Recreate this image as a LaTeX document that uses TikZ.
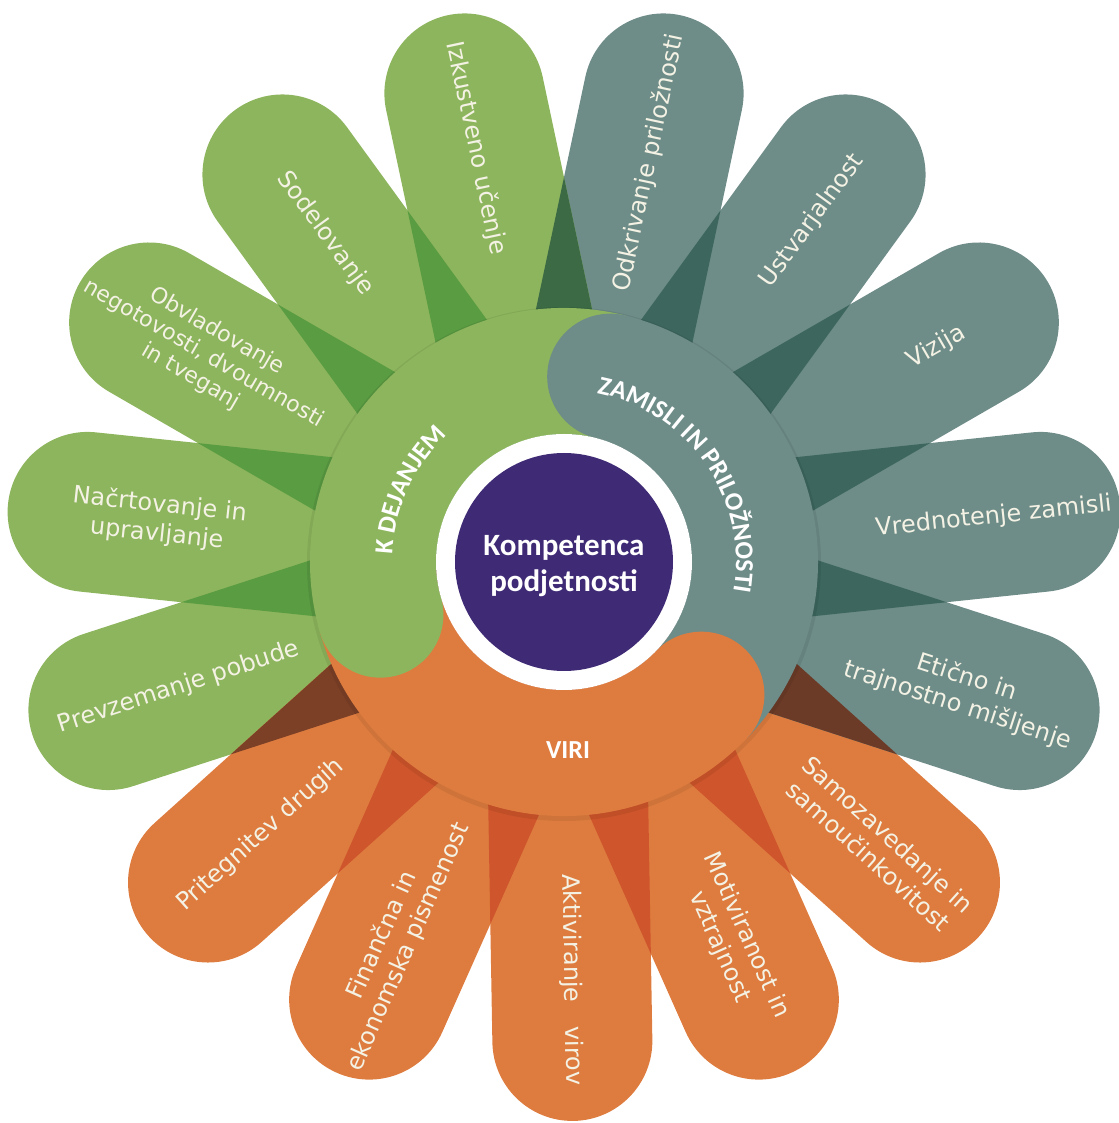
\documentclass[tikz,border=0pt]{standalone}
\usepackage{fontspec}
\setmainfont{DejaVu Sans}
\newfontfamily\carl{Carlito}
\usetikzlibrary{decorations.text}

\definecolor{gP}{HTML}{8DB55D}
\definecolor{gD}{HTML}{5A9C42}
\definecolor{tP}{HTML}{6E8C88}
\definecolor{tD}{HTML}{3D675E}
\definecolor{oP}{HTML}{DE7C3F}
\definecolor{oD}{HTML}{CF552C}
\definecolor{goD}{HTML}{7C4026}
\definecolor{toD}{HTML}{6C3B27}
\definecolor{gtD}{HTML}{3B6A45}
\definecolor{purp}{HTML}{3F2A75}
\definecolor{ptext}{HTML}{F4F2E4}

\newcommand\petalshape{(0pt,-80pt) -- (479pt,-80pt) arc[start angle=-90,end angle=90,radius=80pt] -- (0pt,80pt) -- cycle}

\tikzset{
  ptxt/.style={align=center, font=\fontsize{24}{29}\selectfont, text=ptext, inner sep=0pt},
  ptxts/.style={align=center, font=\fontsize{22}{26}\selectfont, text=ptext, inner sep=0pt},
  ringtxt/.style={font=\carl\bfseries\fontsize{26}{26}\selectfont, text=white, inner sep=0pt},
}

\begin{document}
\begin{tikzpicture}[x=1pt,y=1pt]
\useasboundingbox (-564pt,-561pt) rectangle (554pt,562pt);

% petals
\foreach \a/\c in {-89/oP,-66/oP,-42/oP,-18/tP,6/tP,30/tP,54/tP,78/tP,102/gP,126/gP,150/gP,174/gP,198/gP,222/oP,246/oP}
  \fill[\c, rotate=\a] \petalshape;

% overlaps of neighbouring petals
\foreach \a/\b/\c in {-89/-66/oD,-66/-42/oD,-42/-18/toD,-18/6/tD,6/30/tD,30/54/tD,54/78/tD,78/102/gtD,102/126/gD,126/150/gD,150/174/gD,174/198/gD,198/222/goD,222/246/oD,246/271/oD}{
  \begin{scope}
    \clip[rotate=\a] \petalshape;
    \fill[\c, rotate=\b] \petalshape;
  \end{scope}
}

% ring shadow
\fill[black, opacity=0.07] (0pt,-2pt) circle[radius=257pt];

% ring sectors
\fill[tP] (-44:254pt) arc[start angle=-44,end angle=76,radius=254pt] -- (76:128pt) arc[start angle=76,end angle=-44,radius=128pt] -- cycle;
\fill[gP] (76:254pt) arc[start angle=76,end angle=196,radius=254pt] -- (196:128pt) arc[start angle=196,end angle=76,radius=128pt] -- cycle;
\fill[oP] (196:254pt) arc[start angle=196,end angle=316,radius=254pt] -- (316:128pt) arc[start angle=316,end angle=196,radius=128pt] -- cycle;
% round caps
\fill[tP] (76:191pt) circle[radius=63pt];
\fill[gP] (196:191pt) circle[radius=63pt];
\fill[oP] (316:191pt) circle[radius=63pt];

% centre
\fill[white] (0pt,0pt) circle[radius=128pt];
\fill[purp] (0pt,0pt) circle[radius=109pt];
\node[align=center, font=\carl\bfseries\fontsize{31}{36}\selectfont, text=white, inner sep=0pt] (core) at (0pt,-4pt) {Kompetenca\\podjetnosti};

% ring labels
\path[decorate, decoration={text along path, text={|\carl\bfseries\fontsize{26}{26}\selectfont|K DEJANJEM}, text align=center, text color=white}]
  (205:172pt) arc[start angle=205,end angle=105,radius=172pt];
\path[decorate, decoration={text along path, text={|\carl\bfseries\fontsize{26}{26}\selectfont|ZAMISLI IN PRILOŽNOSTI}, text align=center, text color=white}]
  (110:172pt) arc[start angle=110,end angle=-41,radius=172pt];
\node[ringtxt] (viri) at (4pt,-188pt) {VIRI};

% petal labels
\node[ptxt, rotate=-89] (aktiv) at (-89:418pt) {Aktiviranje\quad virov};
\node[ptxt, rotate=-66] (motiv) at (-66:415pt) {Motiviranost in\\vztrajnost};
\node[ptxt, rotate=-42] (samo) at (-42:423pt) {Samozavedanje in\\samoučinkovitost};
\node[ptxt, rotate=-18] (etic) at (-18:419pt) {Etično in\\trajnostno mišljenje};
\node[ptxt, rotate=6] (vred) at (6:432pt) {Vrednotenje zamisli};
\node[ptxt, rotate=30] (viz) at (30:430pt) {Vizija};
\node[ptxt, rotate=54] (ustv) at (54:422pt) {Ustvarjalnost};
\node[ptxt, rotate=78] (odkr) at (78:408pt) {Odkrivanje priložnosti};
\node[ptxt, rotate=-78] (izk) at (102:423pt) {Izkustveno učenje};
\node[ptxt, rotate=-54] (sod) at (126:406pt) {Sodelovanje};
\node[ptxts, rotate=-30] (obv) at (150:416pt) {Obvladovanje\\negotovosti, dvoumnosti\\in tveganj};
\node[ptxt, rotate=-6] (nacr) at (174:408pt) {Načrtovanje in\\upravljanje};
\node[ptxt, rotate=18] (prev) at (198:405pt) {Prevzemanje pobude};
\node[ptxt, rotate=42] (prit) at (222:408pt) {Pritegnitev drugih};
\node[ptxt, rotate=66] (fin) at (246:415pt) {Finančna in\\ekonomska pismenost};
\end{tikzpicture}
\end{document}
